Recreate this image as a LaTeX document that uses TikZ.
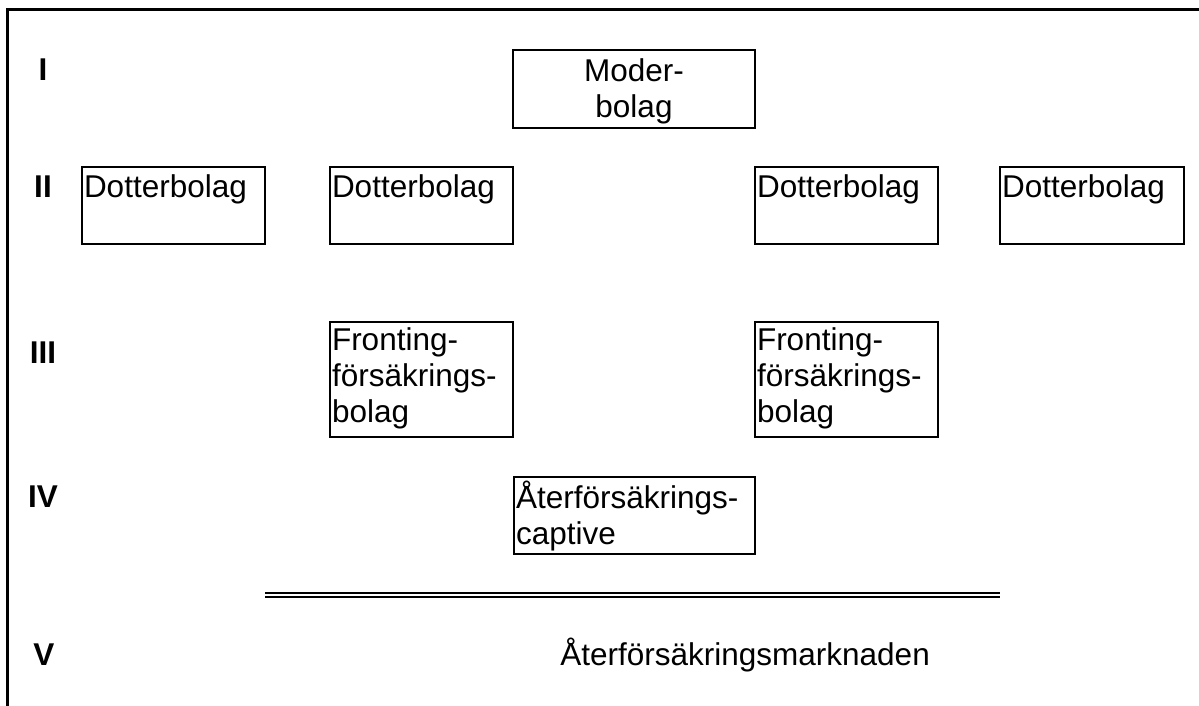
\documentclass[tikz,border=0pt]{standalone}
\usepackage{fontspec}
\setmainfont{Liberation Sans}
\begin{document}
\begin{tikzpicture}%
	[
	x=0.5pt,
	y=-0.5pt,
	every node/.style={font=\fontsize{15.75pt}{18pt}\selectfont},
	frame/.style={line width=1.5pt},
	box/.style={draw, line width=1pt, anchor=north west, inner xsep=1pt, inner ysep=0pt, align=left},
	level/.style={font=\fontsize{15.75pt}{18pt}\selectfont\bfseries, anchor=base},
	rule/.style={draw, line width=1pt, double, double distance=1pt}]

\useasboundingbox (0,0) rectangle (1199,706);
\draw[frame] (7,706) -- (7,10) -- (1199,10);

\coordinate (moder)  at (512,49);
\coordinate (dotter1) at (81,166);
\coordinate (dotter2) at (329,166);
\coordinate (dotter3) at (754,166);
\coordinate (dotter4) at (999,166);
\coordinate (front1) at (329,321);
\coordinate (front2) at (754,321);
\coordinate (captive) at (513,476);

\node[level] (lvl1) at (43,81) {I};
\node[level] (lvl2) at (43,198) {II};
\node[level] (lvl3) at (43,363) {III};
\node[level] (lvl4) at (43,507) {IV};
\node[level] (lvl5) at (44,665) {V};

\node[box, align=center, minimum width=121pt, text width=119pt, text height=16pt, text depth=23pt] (mb) at (moder) {Moder-\\bolag};

\node[box, minimum width=91.5pt, text width=89.5pt, text height=15.5pt, text depth=23pt] (d1) at (dotter1) {Dotterbolag};
\node[box, minimum width=91.5pt, text width=89.5pt, text height=15.5pt, text depth=23pt] (d2) at (dotter2) {Dotterbolag};
\node[box, minimum width=91.5pt, text width=89.5pt, text height=15.5pt, text depth=23pt] (d3) at (dotter3) {Dotterbolag};
\node[box, minimum width=92pt, text width=90pt, text height=15.5pt, text depth=23pt] (d4) at (dotter4) {Dotterbolag};

\node[box, minimum width=91.5pt, text width=89.5pt, text height=14pt, text depth=43.5pt] (f1) at (front1) {Fronting-\\försäkrings-\\bolag};
\node[box, minimum width=91.5pt, text width=89.5pt, text height=14pt, text depth=43.5pt] (f2) at (front2) {Fronting-\\försäkrings-\\bolag};

\node[box, minimum width=120.5pt, text width=118.5pt, text height=15.5pt, text depth=23pt] (cap) at (captive) {Återförsäkrings-\\captive};

\coordinate (rule west) at (265,595);
\coordinate (rule east) at (1000,595);
\draw[rule] (rule west) -- (rule east);

\node[anchor=base west, inner sep=0pt] (market) at (560,665) {Återförsäkringsmarknaden};
\end{tikzpicture}
\end{document}
